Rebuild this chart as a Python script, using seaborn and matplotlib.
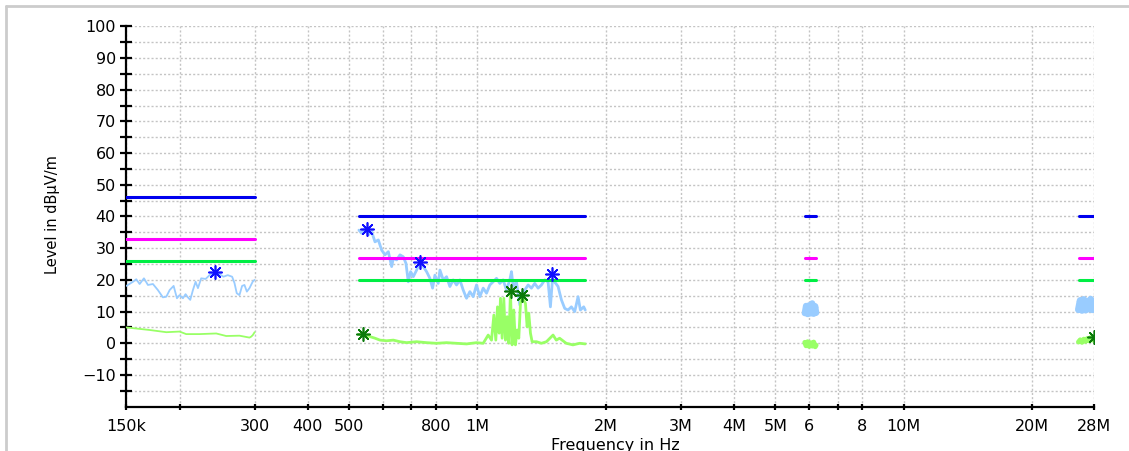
import numpy as np
import pandas as pd
import matplotlib
matplotlib.use("Agg")
import matplotlib.pyplot as plt
import seaborn as sns
from matplotlib.lines import Line2D

# ---------------- data (frequencies in kHz, levels in dBuV/m) ----------------
# Band 1 (150 kHz - 300 kHz)
b1_peak_f = [150.0, 155.5, 158.3, 161.2, 165.0, 168.6, 173.2, 177.9, 182.8, 186.2,
             189.6, 193.7, 197.2, 200.0, 203.7, 206.6, 209.2, 211.9, 215.0, 218.1,
             220.9, 224.8, 230.2, 235.2, 241.6, 248.2, 253.5, 259.5, 265.7, 269.1,
             272.4, 276.4, 280.4, 284.0, 287.7, 291.8, 297.1, 300.0]
b1_peak_v = [18.1, 19.4, 20.2, 18.7, 20.5, 18.4, 18.7, 16.8, 14.5, 14.7,
             16.8, 18.1, 14.2, 15.2, 14.2, 15.5, 14.5, 13.7, 16.8, 19.4,
             17.4, 20.5, 20.3, 21.5, 22.3, 21.8, 21.0, 21.5, 21.0, 19.0,
             15.8, 15.2, 18.1, 18.4, 16.3, 17.4, 19.5, 20.0]
b1_avg_f = [150.0, 170.1, 186.2, 200.0, 207.3, 222.8, 243.8, 257.3, 276.4, 291.8, 294.5, 297.1, 300.0]
b1_avg_v = [5.0, 4.2, 3.5, 3.7, 2.9, 2.9, 3.1, 2.3, 2.4, 1.8, 2.1, 2.6, 3.5]

# Band 2 (526 kHz - 1.79 MHz)
b2_peak_f = [527, 535, 544.5, 554.5, 564.6, 574.9, 585.3, 595.9, 606.7, 617.8,
             629, 634.7, 646.2, 657.9, 669.8, 679.6, 688.1, 696.8, 707, 719.8,
             732.8, 746.1, 759.6, 773.4, 784.7, 794.5, 809, 816.4, 831.2, 846.2,
             861.5, 877.1, 893, 909.3, 925.8, 942.6, 959.7, 977.1, 994.8, 1012.8,
             1031.4, 1050.1, 1069.1, 1088.5, 1108.2, 1128.3, 1148.7, 1169.5, 1190.9, 1201.6,
             1212.5, 1234.4, 1256.8, 1268.1, 1291.1, 1314.5, 1338.3, 1362.5, 1387.5, 1412.7,
             1438.3, 1464.4, 1483, 1499, 1526.2, 1545.6, 1573.7, 1602.2, 1631.2, 1660.8,
             1690.9, 1721.9, 1743.5, 1775.1, 1790.0]
b2_peak_v = [35.7, 34.7, 36.3, 34.2, 35.2, 32.0, 32.6, 29.4, 27.9, 28.9,
             24.2, 26.8, 26.3, 27.9, 27.3, 25.2, 19.4, 22.6, 21.0, 23.1,
             25.7, 24.2, 22.6, 20.5, 17.4, 21.5, 18.9, 23.1, 20.0, 21.0,
             17.9, 20.0, 18.4, 20.0, 16.8, 14.2, 16.3, 14.7, 18.4, 14.7,
             17.4, 15.8, 18.4, 19.4, 20.5, 18.9, 20.0, 16.8, 20.0, 22.6,
             17.9, 19.4, 12.1, 15.8, 16.8, 18.4, 17.4, 18.9, 17.4, 18.4,
             20.0, 19.4, 11.5, 20.0, 18.9, 17.9, 13.7, 11.0, 10.5, 11.5,
             10.0, 14.7, 10.5, 11.5, 10.5]
b2_avg_f = [527, 544.5, 559.6, 574.9, 590.6, 612.2, 634.7, 657.9, 681.9, 719.8,
            759.6, 801.7, 846.2, 893, 942.6, 994.8, 1031.4, 1059.6, 1078.8, 1092.5,
            1104.1, 1114.1, 1124.2, 1132.3, 1142.5, 1152.8, 1163.2, 1173.7, 1184.3, 1195,
            1205.8, 1216.7, 1227.6, 1239, 1250.1, 1261.4, 1272.8, 1284.3, 1295.9, 1307.6,
            1319.4, 1331.3, 1343.3, 1375.2, 1412.7, 1451.3, 1504.2, 1530.6, 1558.3, 1615.3,
            1674.6, 1737.1, 1790.0]
b2_avg_v = [2.8, 2.6, 2.1, 1.6, 1.0, 0.8, 1.0, 0.5, 0.2, 0.5,
            0.2, 0.0, 0.2, 0.0, -0.2, 0.2, 0.0, 2.6, 1.0, 8.9,
            1.0, 11.5, 3.2, 14.2, 1.6, 14.2, 1.0, 8.4, 0.0, 16.3,
            -0.5, 10.5, -0.5, 4.2, 1.6, 12.6, 14.7, 13.7, 12.6, 5.2,
            9.5, 3.2, 0.5, 0.5, 0.0, 0.5, 2.6, 1.0, 1.6, 0.0,
            -0.5, 0.0, -0.2]

# Band 3 (around 6 MHz)
b3_peak_f = [5860, 5900, 5950, 6000, 6050, 6100, 6150, 6200, 6230]
b3_peak_v = [9.5, 11.8, 9.2, 12.0, 9.4, 12.6, 9.3, 11.7, 9.6]
b3_avg_f = [5860, 5900, 5950, 6000, 6050, 6100, 6150, 6200, 6230]
b3_avg_v = [0.3, -0.8, 0.5, -1.0, 0.2, -0.9, 0.4, -1.1, -0.6]

# Band 4 (26 - 28 MHz)
b4_peak_f = [25700, 25950, 26200, 26450, 26700, 26950, 27200, 27450, 27700, 27950, 28000]
b4_peak_v = [10.6, 13.5, 10.4, 13.8, 10.5, 13.2, 10.8, 13.9, 10.6, 13.0, 11.0]
b4_avg_f = [25700, 25950, 26200, 26450, 26700, 26950, 27200, 27450, 27700, 27950, 28000]
b4_avg_v = [0.4, 1.1, 0.3, 1.3, 0.6, 1.5, 0.8, 1.8, 1.0, 2.0, 1.6]

# Limit lines per band (Hz)
limit_start = [150e3, 526e3, 5.86e6, 25.8e6]
limit_end = [300e3, 1.79e6, 6.23e6, 28.0e6]
limit_qp = [46, 40, 40, 40]        # blue
limit_mid = [33, 27, 27, 27]       # magenta
limit_avg = [26, 20, 20, 20]       # green

# Markers (Hz)
peak_marker_f = [241.6e3, 549.5e3, 732.8e3, 1497e3]
peak_marker_v = [22.5, 36.0, 25.7, 21.9]
avg_marker_f = [537.8e3, 1197e3, 1275e3, 28.0e6]
avg_marker_v = [2.8, 16.6, 15.3, 2.1]

x_ticks = [150e3, 200e3, 300e3, 400e3, 500e3, 600e3, 700e3, 800e3, 1e6, 2e6, 3e6,
           4e6, 5e6, 6e6, 7e6, 8e6, 10e6, 20e6, 28e6]
x_tick_labels = ['150k', '', '300', '400', '500', '', '', '800', '1M', '2M', '3M',
                 '4M', '5M', '6', '', '8', '10M', '20M', '28M']

# ---------------- styling ----------------
sns.set_style("white")
plt.rcParams['font.family'] = ['DejaVu Sans']

fig = plt.figure(figsize=(11.29, 4.51), dpi=100)
ax = fig.add_axes([0.11187, 0.09823, 0.8574, 0.8435])

PEAK_C = '#99CCFF'
AVG_C = '#99FF66'

traces = [
    (b1_peak_f, b1_peak_v, PEAK_C, 1.3),
    (b1_avg_f, b1_avg_v, AVG_C, 1.3),
    (b2_peak_f, b2_peak_v, PEAK_C, 2.0),
    (b2_avg_f, b2_avg_v, AVG_C, 2.0),
    (b3_peak_f, b3_peak_v, PEAK_C, 4.5),
    (b3_avg_f, b3_avg_v, AVG_C, 3.5),
    (b4_peak_f, b4_peak_v, PEAK_C, 5.0),
    (b4_avg_f, b4_avg_v, AVG_C, 3.5),
]
for f, v, c, lw in traces:
    df = pd.DataFrame({'f': np.array(f) * 1e3, 'v': v})
    sns.lineplot(data=df, x='f', y='v', ax=ax, color=c, linewidth=lw,
                 estimator=None, sort=False, zorder=3)

for s, e, q, m, a in zip(limit_start, limit_end, limit_qp, limit_mid, limit_avg):
    for val, col in ((q, '#0000EE'), (m, '#FF00FF'), (a, '#00EE44')):
        dfl = pd.DataFrame({'f': [s, e], 'v': [val, val]})
        sns.lineplot(data=dfl, x='f', y='v', ax=ax, color=col, linewidth=2.2,
                     estimator=None, sort=False, zorder=4)

ast = (8, 2, 0)
sns.scatterplot(x=peak_marker_f, y=peak_marker_v, ax=ax, marker=ast, s=90,
                color='#1010FF', edgecolor='#1010FF', linewidth=1.2, zorder=6)
sns.scatterplot(x=avg_marker_f, y=avg_marker_v, ax=ax, marker=ast, s=90,
                color='#0A7A0A', edgecolor='#0A7A0A', linewidth=1.2, zorder=6)

ax.set_xscale('log')
ax.set_xlim(150e3, 28e6)
ax.set_ylim(-20, 100)

ax.set_xticks(x_ticks)
ax.set_xticklabels(x_tick_labels)
ax.xaxis.set_minor_locator(matplotlib.ticker.NullLocator())
ax.set_yticks(np.arange(-10, 101, 10))
ax.set_yticks(np.arange(-15, 100, 10), minor=True)

ax.grid(True, which='both', axis='both', linestyle=(0, (1.5, 1.5)), color='#C4C4C4', linewidth=1.0)
ax.set_axisbelow(True)

for sp in ('top', 'right'):
    ax.spines[sp].set_visible(False)
for sp in ('left', 'bottom'):
    ax.spines[sp].set_color('black')
    ax.spines[sp].set_linewidth(1.6)

ax.tick_params(axis='y', which='both', direction='inout', length=9, width=1.6,
               color='black', labelsize=11.5, pad=3, left=True, labelcolor='black')
ax.tick_params(axis='x', which='both', direction='inout', length=5, width=1.6,
               color='black', labelsize=11.5, pad=6, bottom=True, labelcolor='black')

ax.set_ylabel('Level in dBµV/m', fontsize=10.5, color='black')
ax.yaxis.set_label_coords(-0.0685, 0.504)
ax.set_xlabel('Frequency in Hz', fontsize=11.5, color='black')
ax.xaxis.set_label_coords(0.505, -0.082)
ax.xaxis.label.set_va('top')

# light grey window frame
fig.add_artist(Line2D([6 / 1129, 1.0], [1 - 6 / 451, 1 - 6 / 451], color='#CCCCCC', linewidth=2))
fig.add_artist(Line2D([6 / 1129, 6 / 1129], [0.0, 1 - 6 / 451], color='#CCCCCC', linewidth=2))

fig.savefig('out.png', dpi=100)
